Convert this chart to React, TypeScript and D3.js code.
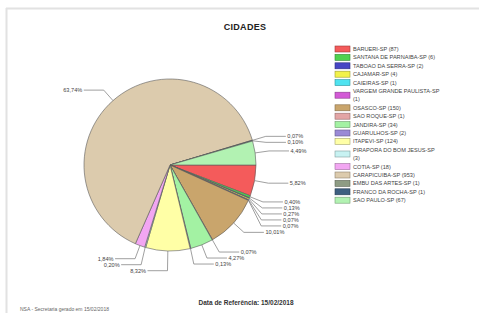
import React from 'react';
import * as d3 from 'd3';

// values (share of total, %)
const cities = [
	'BARUERI-SP',
	'SANTANA DE PARNAIBA-SP',
	'TABOAO DA SERRA-SP',
	'CAJAMAR-SP',
	'CAIEIRAS-SP',
	'VARGEM GRANDE PAULISTA-SP',
	'OSASCO-SP',
	'SAO ROQUE-SP',
	'JANDIRA-SP',
	'GUARULHOS-SP',
	'ITAPEVI-SP',
	'PIRAPORA DO BOM JESUS-SP',
	'COTIA-SP',
	'CARAPICUIBA-SP',
	'EMBU DAS ARTES-SP',
	'FRANCO DA ROCHA-SP',
	'SAO PAULO-SP',
];
const counts = [87, 6, 2, 4, 1, 1, 150, 1, 34, 2, 124, 3, 18, 953, 1, 1, 67];
const shares = [
	5.82, 0.4, 0.13, 0.27, 0.07, 0.07, 10.01, 0.07, 4.27, 0.13, 8.32, 0.2, 1.84,
	63.74, 0.07, 0.1, 4.49,
];
const colors = [
	'#f45b5b',
	'#4fd24f',
	'#4646c4',
	'#f2f24a',
	'#4fe3f0',
	'#d35ad6',
	'#c9a56c',
	'#e3a5a5',
	'#a3f2a3',
	'#9a8ad6',
	'#ffffa6',
	'#c8f2f2',
	'#f2a6f2',
	'#dccbad',
	'#8e9c84',
	'#3e5f80',
	'#b2f2b2',
];

const W = 479;
const H = 313;
const cx = 170;
const cy = 165;
const r = 86;

const font = 'Arial, "Liberation Sans", sans-serif';
const fmt = (v: number) => d3.format('.2f')(v).replace('.', ',') + '%';

const App = () => {
	const pie = d3
		.pie<number>()
		.sort(null)
		.startAngle(Math.PI / 2)
		.endAngle(Math.PI / 2 + 2 * Math.PI)(shares);
	const arc = d3.arc<d3.PieArcDatum<number>>().innerRadius(0).outerRadius(r);

	const pt = (a: number, rr: number) => [Math.sin(a) * rr, -Math.cos(a) * rr];

	// label anchors, then push labels on each side apart so they don't sit on top of each other
	const labels = pie.map((d, i) => {
		const mid = (d.startAngle + d.endAngle) / 2;
		const [ax, ay] = pt(mid, r);
		const [ex, ey] = pt(mid, r + 14);
		const right = Math.sin(mid) >= 0;
		return { i, ax, ay, ex, ey, ly: ey, right };
	});
	[true, false].forEach((side) => {
		const group = labels
			.filter((l) => l.right === side)
			.sort((a, b) => a.ey - b.ey);
		for (let k = 1; k < group.length; k++) {
			if (group[k].ly < group[k - 1].ly + 6) group[k].ly = group[k - 1].ly + 6;
		}
	});

	// legend rows, long names wrap the count to a second line
	let row = 0;
	const legendRows = cities.map((c, i) => {
		const full = `${c} (${counts[i]})`;
		const lines = full.length > 27 ? [c, `(${counts[i]})`] : [full];
		const y0 = 49 + row * 8.4;
		row += lines.length;
		return { lines, y0, i };
	});

	return (
		<svg
			width={W}
			height={H}
			style={{ position: 'absolute', left: 0, top: 0, background: '#fff' }}
		>
			{/* frame */}
			<line x1={6} x2={W} y1={8.5} y2={8.5} stroke='#e2e2e2' strokeWidth={2} />
			<line x1={6.5} x2={6.5} y1={8} y2={H} stroke='#e2e2e2' strokeWidth={2} />

			<text
				x={245}
				y={30}
				textAnchor='middle'
				fontFamily={font}
				fontWeight='bold'
				fontSize={9}
				letterSpacing={0.3}
				fill='#222'
			>
				CIDADES
			</text>

			{/* pie */}
			<g transform={`translate(${cx},${cy})`}>
				{pie.map((d, i) => (
					<path
						key={'s' + i}
						d={arc(d) || ''}
						fill={colors[i]}
						stroke='#5a5a5a'
						strokeWidth={0.6}
						strokeLinejoin='round'
					/>
				))}
				{labels.map((l) => {
					const lx = l.ex + (l.right ? 20 : -20);
					return (
						<g key={'l' + l.i}>
							<polyline
								points={`${l.ax},${l.ay} ${l.ex},${l.ly} ${lx},${l.ly}`}
								fill='none'
								stroke='#777'
								strokeWidth={0.7}
							/>
							<text
								x={lx + (l.right ? 1.5 : -1.5)}
								y={l.ly}
								dy='0.35em'
								textAnchor={l.right ? 'start' : 'end'}
								fontFamily={font}
								fontSize={5.6}
								fill='#444'
							>
								{fmt(shares[l.i])}
							</text>
						</g>
					);
				})}
			</g>

			{/* legend */}
			<g>
				{legendRows.map(({ lines, y0, i }) => {
					const yc = y0 + ((lines.length - 1) * 8.4) / 2;
					return (
						<g key={'g' + i}>
							<rect
								x={335}
								y={yc - 3}
								width={15}
								height={6}
								fill={colors[i]}
								stroke={d3.color(colors[i])!.darker(1.2).toString()}
								strokeWidth={0.6}
							/>
							{lines.map((t, k) => (
								<text
									key={k}
									x={353}
									y={y0 + k * 8.4}
									dy='0.35em'
									fontFamily={font}
									fontSize={5.6}
									fill='#444'
								>
									{t}
								</text>
							))}
						</g>
					);
				})}
			</g>

			<text
				x={246}
				y={305}
				textAnchor='middle'
				fontFamily={font}
				fontWeight='bold'
				fontSize={6.5}
				fill='#333'
			>
				Data de Referência: 15/02/2018
			</text>
			<text x={20} y={311} fontFamily={font} fontSize={5} fill='#666'>
				NSA - Secretaria gerado em 15/02/2018
			</text>
		</svg>
	);
};

export default App;
